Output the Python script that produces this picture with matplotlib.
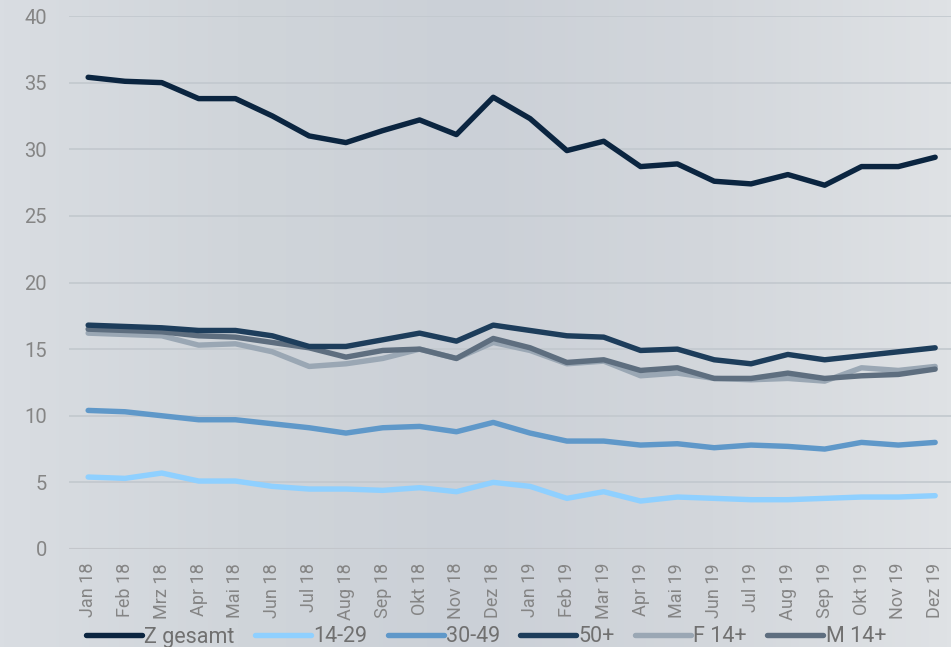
import numpy as np
import matplotlib
matplotlib.use("Agg")
import matplotlib.pyplot as plt
from matplotlib.colors import LinearSegmentedColormap

plt.rcParams["font.family"] = ["Roboto", "DejaVu Sans"]

months = ["Jan 18", "Feb 18", "Mrz 18", "Apr 18", "Mai 18", "Jun 18", "Jul 18", "Aug 18",
          "Sep 18", "Okt 18", "Nov 18", "Dez 18", "Jan 19", "Feb 19", "Mar 19", "Apr 19",
          "Mai 19", "Jun 19", "Jul 19", "Aug 19", "Sep 19", "Okt 19", "Nov 19", "Dez 19"]

z_gesamt = [35.4, 35.1, 35.0, 33.8, 33.8, 32.5, 31.0, 30.5, 31.4, 32.2, 31.1, 33.9,
            32.3, 29.9, 30.6, 28.7, 28.9, 27.6, 27.4, 28.1, 27.3, 28.7, 28.7, 29.4]
a14_29 = [5.4, 5.3, 5.7, 5.1, 5.1, 4.7, 4.5, 4.5, 4.4, 4.6, 4.3, 5.0,
          4.7, 3.8, 4.3, 3.6, 3.9, 3.8, 3.7, 3.7, 3.8, 3.9, 3.9, 4.0]
a30_49 = [10.4, 10.3, 10.0, 9.7, 9.7, 9.4, 9.1, 8.7, 9.1, 9.2, 8.8, 9.5,
          8.7, 8.1, 8.1, 7.8, 7.9, 7.6, 7.8, 7.7, 7.5, 8.0, 7.8, 8.0]
a50p = [16.8, 16.7, 16.6, 16.4, 16.4, 16.0, 15.2, 15.2, 15.7, 16.2, 15.6, 16.8,
        16.4, 16.0, 15.9, 14.9, 15.0, 14.2, 13.9, 14.6, 14.2, 14.5, 14.8, 15.1]
f14p = [16.2, 16.1, 16.0, 15.3, 15.4, 14.8, 13.7, 13.9, 14.3, 15.0, 14.3, 15.5,
        14.9, 13.9, 14.1, 13.0, 13.2, 12.8, 12.7, 12.8, 12.6, 13.6, 13.4, 13.7]
m14p = [16.5, 16.4, 16.3, 16.0, 15.9, 15.5, 15.1, 14.4, 14.9, 15.0, 14.3, 15.8,
        15.1, 14.0, 14.2, 13.4, 13.6, 12.8, 12.8, 13.2, 12.8, 13.0, 13.1, 13.5]

series_names = ["Z gesamt", "14-29", "30-49", "50+", "F 14+", "M 14+"]
colors = ["#0b2540", "#8fd0ff", "#5f98c9", "#1d3d5b", "#9aa7b4", "#5e6e7f"]

fig = plt.figure(figsize=(9.51, 6.47), dpi=100)

# background gradient
bg = fig.add_axes([0, 0, 1, 1], zorder=-10)
cmap = LinearSegmentedColormap.from_list("bg", ["#d9dde2", "#d0d5da", "#cbd0d7", "#d3d7dc", "#dfe2e5"])
bg.imshow(np.linspace(0, 1, 256)[None, :], aspect="auto", cmap=cmap, extent=[0, 1, 0, 1])
bg.set_axis_off()

ax = fig.add_axes([69/951, 1-549/647, 1-69/951, (549-16)/647])
ax.patch.set_alpha(0)
x = np.arange(len(months))
order = [("F 14+", f14p), ("M 14+", m14p), ("50+", a50p), ("30-49", a30_49), ("14-29", a14_29), ("Z gesamt", z_gesamt)]
handles = {}
for name, vals in order:
    c = colors[series_names.index(name)]
    ln, = ax.plot(x, vals, color=c, lw=3.9, solid_capstyle="round", solid_joinstyle="round", label=name)
    handles[name] = ln

ax.set_ylim(0, 40)
ax.set_xlim(-0.52, 23.43)
ax.set_yticks(range(0, 41, 5))
ax.set_xticks(x)
ax.set_xticklabels(months, rotation=90)
ax.tick_params(axis="both", length=0, colors="#858585")
ax.tick_params(axis="y", labelsize=14.5, pad=16)
ax.tick_params(axis="x", labelsize=13, pad=10)
ax.grid(axis="y", color="#c2c8ce", lw=1.2)
ax.set_axisbelow(True)
for s in ax.spines.values():
    s.set_visible(False)
ax.axhline(0, color="#c8c2c2", lw=1.5, zorder=0.5)

fig.legend([handles[n] for n in series_names], series_names, loc="center left",
           bbox_to_anchor=(86/951, 1-637/647), ncol=6, frameon=False,
           fontsize=15.5, handlelength=2.6, handletextpad=0.1, columnspacing=0.95,
           labelcolor="#707070", borderaxespad=0, borderpad=0)

fig.savefig("out.png", dpi=100)
